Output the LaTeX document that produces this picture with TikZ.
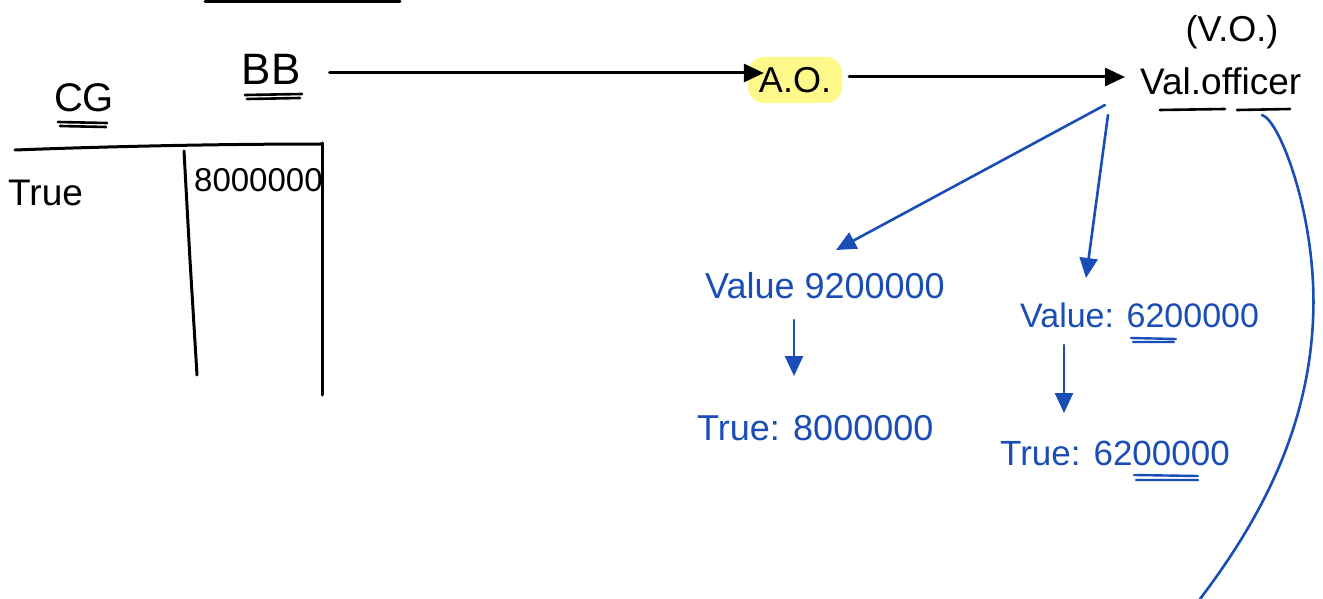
\documentclass[tikz,border=0pt]{standalone}
\usepackage{fontspec}
\setmainfont{Liberation Sans}
\usetikzlibrary{arrows.meta}
\definecolor{pen}{HTML}{1A4DB5}
\definecolor{hilite}{HTML}{FCF88A}
\begin{document}
\begin{tikzpicture}[x=1pt,y=-1pt,inner sep=0pt,
  blk/.style={draw=black,line width=3pt,line cap=round},
  blu/.style={draw=pen,line width=2.6pt,line cap=round},
  tip/.style={-{Triangle[length=20pt,width=18pt]}},
  ulk/.style={draw=black,line width=2.6pt,line cap=round},
  ulb/.style={draw=pen,line width=2.4pt,line cap=round},
  lbl/.style={font=\fontsize{#1}{#1}\selectfont},
  bl/.style={text=pen,anchor=base west,font=\fontsize{#1}{#1}\selectfont}]
\useasboundingbox (0,0) rectangle (1323,599);

% rule at the top edge
\draw[blk] (205,1.5) -- (400,1.5);

% CG / BB table
\node[lbl=40] (cg) at (84,98) {CG};
\node[lbl=44] (bb) at (271,69) {BB};
\draw[ulk] (58,122) -- (107,123) (60,126) -- (106,127);
\draw[ulk] (245,95) -- (302,94) (247,99) -- (300,98);
\draw[blk] (15,150) .. controls (120,146) and (230,144) .. (322,144);
\draw[blk] (184,151) -- (190,260) -- (197,375);
\draw[blk] (322,143) -- (322,395);
\node[lbl=37,anchor=base west] (tree) at (8,205) {True};
\node[lbl=33,anchor=base west] (cgval) at (194,192) {8000000};

% A.O. (highlighted) and valuation officer
\node[fill=hilite,rounded corners=16pt,minimum width=94pt,minimum height=46pt,
      lbl=36] (ao) at (795,80) {A.O.};
\node[lbl=37,anchor=base west] (vo) at (1140,95) {Val.officer};
\node[lbl=36] (votag) at (1232,32) {(V.O.)};
\draw[ulk] (1160,110) -- (1225,109) (1237,110) -- (1290,109);

\draw[blk,tip] ([xshift=29pt,yshift=-4pt]bb.east) -- ([xshift=16pt,yshift=7pt]ao.west);
\draw[blk,tip] ([xshift=7pt,yshift=3pt]ao.east) -- ([xshift=-15pt,yshift=18pt]vo.base west);

% valuation branches
\node[bl=36] (v1) at (705,298) {Value 9200000};
\node[bl=36] (t1) at (697,440) {True: 8000000};
\node[bl=34] (v2) at (1020,327) {Value: 6200000};
\node[bl=35] (t2) at (1000,465) {True: 6200000};
\draw[ulb] (1131,338) -- (1176,339) (1133,342) -- (1174,342);
\draw[ulb] (1134,475) -- (1198,476) (1136,480) -- (1198,480);

\draw[blu,tip] ([xshift=-35pt,yshift=-10pt]vo.base west) -- ([xshift=131pt,yshift=48pt]v1.base west);
\draw[blu,tip] ([xshift=-32pt,yshift=-20pt]vo.base west) -- ([xshift=66pt,yshift=49pt]v2.base west);
\draw[blu,tip] ([xshift=89pt,yshift=-22pt]v1.base west) -- ([xshift=97pt,yshift=64pt]t1.base west);
\draw[blu,tip] ([xshift=44pt,yshift=-18pt]v2.base west) -- ([xshift=64pt,yshift=52pt]t2.base west);

% long curve running off the bottom edge
\coordinate (tail) at (1200,599);
\draw[blu] ([xshift=122pt,yshift=-20pt]vo.base west)
  .. controls ([xshift=140pt,yshift=-25pt]vo.base west) and (1318,220) .. (1313,320)
  .. controls (1308,430) and (1260,520) .. (tail);
\end{tikzpicture}
\end{document}
